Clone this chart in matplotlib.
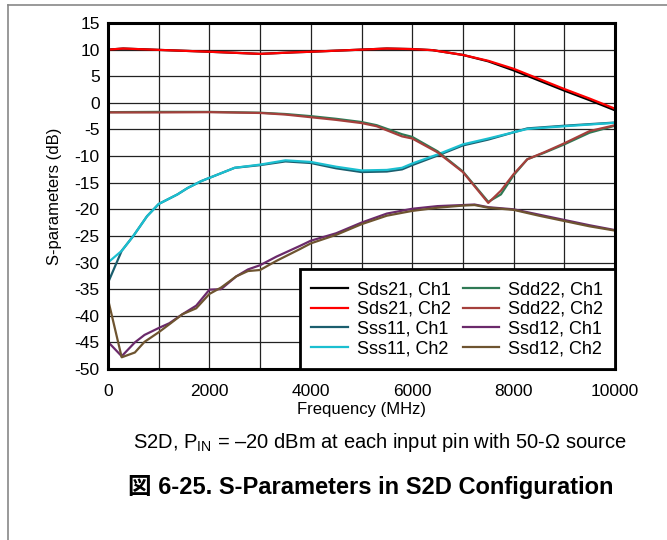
import matplotlib
matplotlib.use("Agg")
import matplotlib.pyplot as plt
from matplotlib.lines import Line2D

plt.rcParams['font.family'] = ['Liberation Sans', 'Noto Sans CJK JP', 'DejaVu Sans']
plt.rcParams['mathtext.fontset'] = 'custom'
plt.rcParams['mathtext.rm'] = 'Liberation Sans'
plt.rcParams['mathtext.it'] = 'Liberation Sans'
plt.rcParams['axes.unicode_minus'] = False

# Sds21
sds21_f = [0, 300, 1000, 2000, 3000, 3700, 4000, 5000, 5500, 6000, 6400, 7000, 7500, 8000, 8500, 9000, 9500, 10000]
sds21_ch1 = [10.0, 10.2, 9.95, 9.6, 9.2, 9.5, 9.6, 10.0, 10.2, 10.1, 9.9, 9.0, 7.8, 6.1, 4.2, 2.3, 0.5, -1.4]
sds21_ch2 = [10.0, 10.2, 9.95, 9.6, 9.2, 9.5, 9.6, 10.0, 10.2, 10.1, 9.9, 9.0, 7.9, 6.4, 4.5, 2.6, 0.8, -1.1]

# Sss11
sss11_f = [0, 270, 500, 770, 1000, 1370, 1570, 1840, 2500, 3000, 3500, 4000, 4500, 5000, 5500,
           5800, 6000, 6500, 7000, 7500, 8270, 9000, 10000]
sss11_ch1 = [-33.8, -27.8, -25.0, -21.3, -19.0, -17.2, -16.0, -14.7, -12.2, -11.7, -11.0, -11.3, -12.3,
             -13.0, -12.9, -12.5, -11.7, -9.9, -8.0, -6.9, -4.8, -4.3, -3.7]
sss11_ch2 = [-30.0, -27.8, -25.0, -21.3, -19.0, -17.2, -16.0, -14.7, -12.2, -11.6, -10.8, -11.1, -12.0,
             -12.7, -12.6, -12.2, -11.4, -9.7, -7.8, -6.7, -4.9, -4.4, -3.75]

# Sdd22
sdd22_f = [0, 1000, 2000, 3000, 3500, 4000, 4500, 5000, 5300, 5800, 6000, 6500, 7000, 7500, 7750,
           8000, 8270, 8600, 9000, 9500, 10000]
sdd22_ch1 = [-1.75, -1.7, -1.7, -1.85, -2.1, -2.5, -3.0, -3.6, -4.2, -5.9, -6.4, -9.1, -12.9, -18.6,
             -17.2, -13.6, -10.6, -9.4, -7.8, -5.6, -4.3]
sdd22_ch2 = [-1.8, -1.8, -1.75, -1.9, -2.2, -2.7, -3.2, -3.8, -4.4, -6.3, -6.7, -9.3, -13.0, -18.8,
             -16.5, -13.4, -10.6, -9.3, -7.6, -5.3, -4.2]

# Ssd12
ssd12_f = [0, 270, 530, 720, 1000, 1210, 1470, 1740, 2000, 2230, 2530, 2760, 3000, 3320, 3780, 4000,
           4500, 5000, 5500, 6000, 6500, 7000, 7230, 7500, 8000, 8500, 9000, 9500, 10000]
ssd12_ch1 = [-44.9, -47.6, -45.0, -43.6, -42.3, -41.4, -39.7, -38.1, -35.1, -35.0, -32.6, -31.3, -30.5,
             -28.9, -26.9, -25.9, -24.5, -22.5, -20.8, -19.9, -19.4, -19.2, -19.1, -19.6, -20.0, -21.0,
             -22.0, -23.0, -23.9]
ssd12_ch2 = [-36.9, -47.8, -46.9, -44.9, -43.1, -41.6, -39.7, -38.6, -35.9, -34.7, -32.6, -31.6, -31.4,
             -29.7, -27.5, -26.4, -24.8, -22.8, -21.2, -20.3, -19.7, -19.3, -19.2, -19.7, -20.1, -21.2,
             -22.2, -23.2, -24.0]

series = [
    ("Sds21, Ch1", sds21_f, sds21_ch1, "#000000"),
    ("Sds21, Ch2", sds21_f, sds21_ch2, "#ff0000"),
    ("Sss11, Ch1", sss11_f, sss11_ch1, "#1b5e6e"),
    ("Sss11, Ch2", sss11_f, sss11_ch2, "#1bbfd0"),
    ("Sdd22, Ch1", sdd22_f, sdd22_ch1, "#2f7a55"),
    ("Sdd22, Ch2", sdd22_f, sdd22_ch2, "#a5403c"),
    ("Ssd12, Ch1", ssd12_f, ssd12_ch1, "#6b2a6b"),
    ("Ssd12, Ch2", ssd12_f, ssd12_ch2, "#6e5430"),
]

fig = plt.figure(figsize=(6.67, 5.4), dpi=100)
ax = fig.add_axes([108 / 667, 1 - 369 / 540, 507 / 667, 346 / 540])

for label, f, v, c in series:
    ax.plot(f, v, color=c, lw=1.6, label=label)

ax.set_xlim(0, 10000)
ax.set_ylim(-50, 15)
ax.set_xticks(range(0, 10001, 2000))
ax.set_xticks(range(0, 10001, 1000), minor=True)
ax.set_yticks(range(-50, 16, 5))
ax.grid(True, which='both', color='#222222', lw=0.9)
ax.set_axisbelow(True)
ax.tick_params(which='both', length=0, labelsize=12.5, pad=6)
ax.tick_params(axis='x', pad=11)
for s in ax.spines.values():
    s.set_linewidth(2.2)

ax.set_xlabel("Frequency (MHz)", fontsize=12, labelpad=2)
ax.set_ylabel("S-parameters (dB)", fontsize=12, labelpad=9)

leg = ax.legend(loc='lower right', ncol=2, fontsize=13, borderaxespad=0, frameon=True,
                fancybox=False, handlelength=2.0, handletextpad=0.5, columnspacing=0.7,
                labelspacing=0.15, borderpad=0.65)
leg.get_frame().set_edgecolor('black')
leg.get_frame().set_linewidth(2)
leg.get_frame().set_alpha(1)

fig.text(380 / 667, 1 - 442 / 540, "S2D, P$_{\\mathrm{IN}}$ = \u201320 dBm at each input pin with 50-\u03a9 source",
         ha='center', va='center', fontsize=14.5)
fig.text(371 / 667, 1 - 487 / 540, "図 6-25. S-Parameters in S2D Configuration",
         ha='center', va='center', fontsize=17, fontweight='bold')

# page frame
fig.add_artist(Line2D([8 / 667, 1], [1 - 5 / 540] * 2, color='#888888', lw=1.2))
fig.add_artist(Line2D([8 / 667] * 2, [0, 1 - 5 / 540], color='#888888', lw=1.2))

fig.savefig("out.png", dpi=100)
